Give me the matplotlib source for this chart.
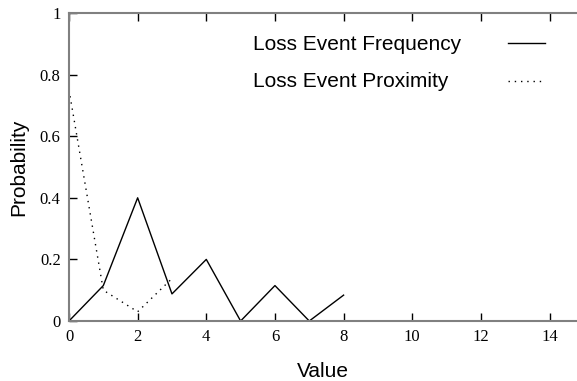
import matplotlib
matplotlib.use("Agg")
import matplotlib.pyplot as plt
from matplotlib.lines import Line2D

freq_x = [0, 1, 2, 3, 4, 5, 6, 7, 8]
freq_y = [0.0, 0.115, 0.40, 0.088, 0.20, 0.0, 0.115, 0.0, 0.084]
prox_x = [0, 1, 2, 3]
prox_y = [0.75, 0.10, 0.03, 0.138]
xticks = [0, 2, 4, 6, 8, 10, 12, 14]
yticks = [0, 0.2, 0.4, 0.6, 0.8, 1]
yticklabels = ["0", "0.2", "0.4", "0.6", "0.8", "1"]
series_names = ["Loss Event Frequency", "Loss Event Proximity"]

fig = plt.figure(figsize=(5.77, 3.81), dpi=100)
ax = fig.add_axes([69/577, 60/381, 1 - 69/577, 308/381])

dots = (0, (1, 3.5))
ax.plot(freq_x, freq_y, color="black", lw=1.0)
ax.plot(prox_x, prox_y, color="black", lw=1.0, linestyle=dots)

ax.set_xlim(0, 14.8)
ax.set_ylim(0, 1)
for s in ["left", "bottom", "top"]:
    ax.spines[s].set_color("#808080")
    ax.spines[s].set_linewidth(1.5)
ax.spines["right"].set_visible(False)

ax.set_xticks(xticks)
ax.set_xticklabels([str(t) for t in xticks])
ax.set_yticks(yticks)
ax.set_yticklabels(yticklabels)
ax.tick_params(axis="x", direction="in", top=True, bottom=True, length=6, width=1, color="black", pad=6)
ax.tick_params(axis="y", direction="in", left=True, right=False, length=6, width=1, color="black", pad=6)
for lab in ax.get_xticklabels() + ax.get_yticklabels():
    lab.set_fontfamily("Liberation Serif")
    lab.set_fontsize(12)

ax.set_xlabel("Value", fontfamily="Liberation Sans", fontsize=15, labelpad=12)
ax.set_ylabel("Probability", fontfamily="Liberation Sans", fontsize=15, labelpad=8)

# manual legend (text left-aligned, sample line on the right)
leg_rows = [(0.898, 0.9036, "-"), (0.779, 0.780, dots)]
for name, (ty, ly, ls) in zip(series_names, leg_rows):
    ax.text(0.362, ty, name, transform=ax.transAxes, ha="left", va="center",
            fontfamily="Liberation Sans", fontsize=15)
    ax.add_line(Line2D([0.864, 0.937], [ly, ly], transform=ax.transAxes,
                       color="black", lw=1.0, linestyle=ls))

fig.savefig("out.png", dpi=100)
